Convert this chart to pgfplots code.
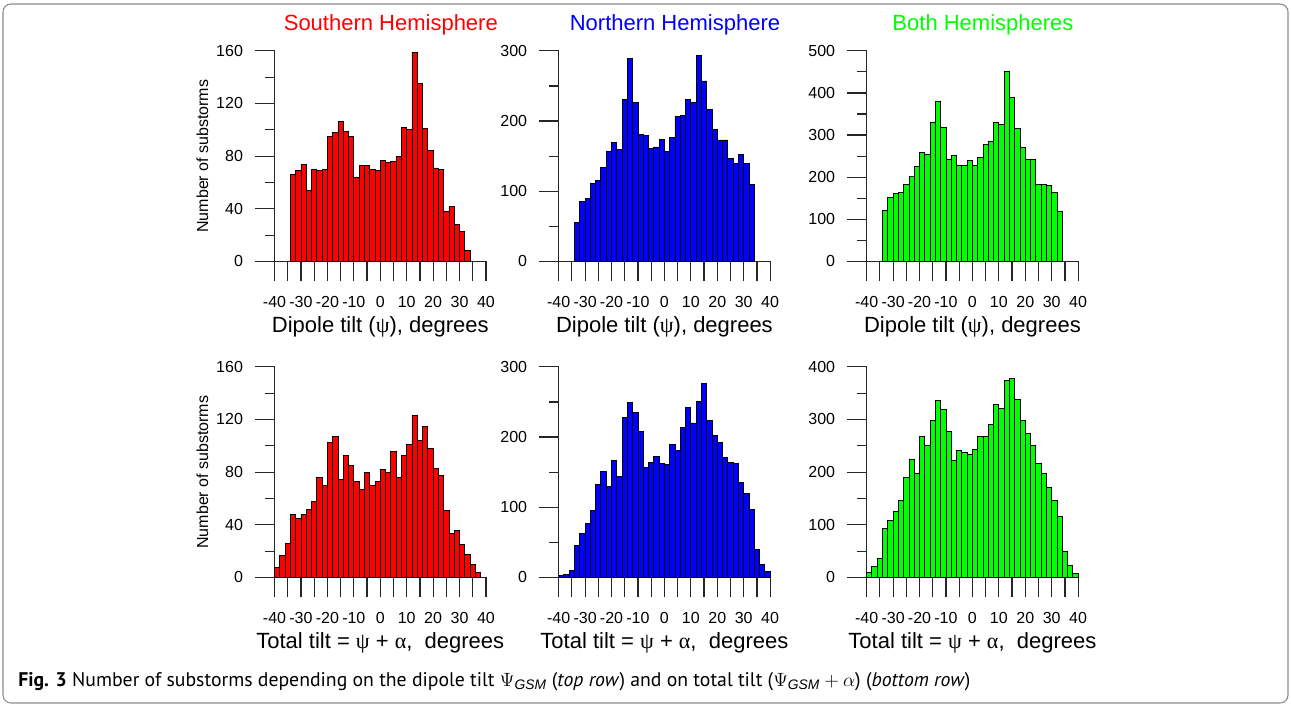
\documentclass[border=0pt]{standalone}
\usepackage{pgfplots}
\pgfplotsset{compat=1.18}
\usepackage{pgfplotstable}
\usepackage{fontspec}
\setmainfont{Liberation Sans}
\newfontfamily\serifgreek{Liberation Serif}
\newfontfamily\capfont{PT Sans}

\definecolor{sred}{RGB}{255,0,0}
\definecolor{nblue}{RGB}{0,0,255}
\definecolor{bgreen}{RGB}{0,255,0}

\pgfplotstableread{
x y
-33 66
-31 69
-29 74
-27 54
-25 70
-23 69
-21 70
-19 95
-17 98
-15 106
-13 99
-11 95
-9 64
-7 73
-5 73
-3 70
-1 69
1 77
3 75
5 76
7 80
9 102
11 100
13 159
15 135
17 101
19 84
21 71
23 70
25 38
27 42
29 28
31 23
33 8
}\tabTL

\pgfplotstableread{
x y
-33 55
-31 85
-29 90
-27 111
-25 116
-23 134
-21 157
-19 170
-17 160
-15 230
-13 289
-11 226
-9 181
-7 180
-5 161
-3 163
-1 174
1 157
3 176
5 207
7 208
9 230
11 227
13 293
15 257
17 217
19 188
21 173
23 173
25 147
27 140
29 153
31 140
33 110
}\tabTM

\pgfplotstableread{
x y
-33 120
-31 153
-29 161
-27 163
-25 183
-23 202
-21 225
-19 259
-17 254
-15 331
-13 380
-11 317
-9 243
-7 251
-5 229
-3 229
-1 240
1 228
3 247
5 277
7 284
9 329
11 324
13 451
15 389
17 315
19 270
21 243
23 242
25 183
27 182
29 180
31 163
33 118
}\tabTR

\pgfplotstableread{
x y
-39 7.6
-37 16.7
-35 25.6
-33 47.6
-31 44.8
-29 47.6
-27 51.6
-25 57.7
-23 75.7
-21 69.6
-19 102.8
-17 107
-15 74.7
-13 92.9
-11 84.8
-9 72.7
-7 66.8
-5 79.7
-3 69.6
-1 72.7
1 81.8
3 79.7
5 96
7 75.7
9 92.9
11 100.8
13 122.8
15 103.8
17 115
19 97.7
21 82.8
23 77.7
25 50.9
27 33.7
29 35.7
31 24.8
33 17.7
35 9.6
37 3.8
}\tabBL

\pgfplotstableread{
x y
-39 2.4
-37 3.8
-35 10.4
-33 45.5
-31 62
-29 77
-27 95
-25 132
-23 151
-21 129
-19 166
-17 144
-15 227.5
-13 249
-11 235
-9 208
-7 156
-5 164
-3 172
-1 163
1 161
3 190
5 181
7 214
9 242
11 220
13 251
15 276
17 223
19 202
21 192
23 171
25 164
27 162.6
29 135
31 120
33 96.7
35 40
37 18
39 8
}\tabBM

\pgfplotstableread{
x y
-39 10
-37 20
-35 36.7
-33 93.7
-31 107.6
-29 124.7
-27 145.6
-25 190
-23 225
-21 198
-19 267
-17 250
-15 297.5
-13 336
-11 319
-9 276.6
-7 221.5
-5 241.8
-3 238
-1 233
1 243.7
3 268
5 268
7 291
9 329
11 321.5
13 374
15 378.5
17 338
19 298.7
21 274
23 250
25 216
27 197
29 171.5
31 145.6
33 115
35 50
37 22.8
39 8.2
}\tabBR

\pgfplotsset{
  myax/.style={
    scale only axis, width=158.6pt, height=158pt,
    anchor=south west,
    axis lines=left,
    axis line style={-, line width=0.9pt, black!85},
    xmin=-40, xmax=40, ymin=0,
    enlargelimits=false,
    xtick={-40,-35,...,40},
    xticklabels={-40,,-30,,-20,,-10,,0,,10,,20,,30,,40},
    tick align=outside,
    major tick length=15pt, minor tick length=7.5pt,
    every tick/.style={line width=0.9pt, black!85},
    ticklabel style={font=\fontsize{12}{14}\selectfont},
    /pgf/number format/assume math mode=true,
    xticklabel style={anchor=base, yshift=-19.4pt},
    yticklabel style={anchor=east, inner sep=0pt, xshift=-8.5pt},
    xlabel style={at={(axis description cs:0.5,-0.335)}, anchor=base, font=\fontsize{16.5}{18}\selectfont},
    ylabel style={at={(axis description cs:-0.314,0.5)}, anchor=base, rotate=0, font=\fontsize{12}{14}\selectfont},
    title style={at={(axis description cs:0.55,1.057)}, anchor=base, font=\fontsize{16.5}{18}\selectfont},
    ybar, bar width=2,
    clip=false,
  },
  bars/.style={fill=#1, draw=black, line width=0.7pt},
}

\begin{document}
\begin{tikzpicture}
\path[use as bounding box] (0,0) rectangle (968.25pt,529.5pt);
\draw[black!45, line width=0.8pt, rounded corners=6pt] (2.25pt,2.25pt) rectangle (966pt,526.5pt);

% top row
\begin{axis}[myax, at={(205.9pt,333.4pt)}, ymax=160,
  ytick={0,40,...,160}, minor ytick={20,60,100,140},
  ylabel={Number of substorms},
  xlabel={Dipole tilt ({\serifgreek ψ}), degrees},
  title={\color{sred}Southern Hemisphere}]
\addplot[bars=sred] table[x=x,y=y] {\tabTL};
\end{axis}

\begin{axis}[myax, at={(419pt,333.4pt)}, ymax=300,
  ytick={0,100,...,300}, minor ytick={50,150,250},
  xlabel={Dipole tilt ({\serifgreek ψ}), degrees},
  title={\color{nblue}Northern Hemisphere}]
\addplot[bars=nblue] table[x=x,y=y] {\tabTM};
\end{axis}

\begin{axis}[myax, at={(650pt,333.4pt)}, ymax=500,
  ytick={0,100,...,500}, minor ytick={50,150,...,450},
  xlabel={Dipole tilt ({\serifgreek ψ}), degrees},
  title={\color{bgreen}Both Hemispheres}]
\addplot[bars=bgreen] table[x=x,y=y] {\tabTR};
\end{axis}

% bottom row
\begin{axis}[myax, at={(205.9pt,96.4pt)}, ymax=160,
  ytick={0,40,...,160}, minor ytick={20,60,100,140},
  ylabel={Number of substorms},
  xlabel={Total tilt = {\serifgreek ψ} + {\serifgreek α},\ \ degrees}]
\addplot[bars=sred] table[x=x,y=y] {\tabBL};
\end{axis}

\begin{axis}[myax, at={(419pt,96.4pt)}, ymax=300,
  ytick={0,100,...,300}, minor ytick={50,150,250},
  xlabel={Total tilt = {\serifgreek ψ} + {\serifgreek α},\ \ degrees}]
\addplot[bars=nblue] table[x=x,y=y] {\tabBM};
\end{axis}

\begin{axis}[myax, at={(650pt,96.4pt)}, ymax=400,
  ytick={0,100,...,400}, minor ytick={50,150,...,350},
  xlabel={Total tilt = {\serifgreek ψ} + {\serifgreek α},\ \ degrees}]
\addplot[bars=bgreen] table[x=x,y=y] {\tabBR};
\end{axis}

\node[anchor=base west, inner sep=0pt] at (13.5pt,14.5pt)
  {\capfont\fontsize{14.8}{17}\selectfont\textbf{Fig. 3} Number of substorms depending on the dipole tilt $\Psi_{\mathit{GSM}}$ (\textit{top row}) and on total tilt ($\Psi_{\mathit{GSM}}+\alpha$) (\textit{bottom row})};
\end{tikzpicture}
\end{document}
